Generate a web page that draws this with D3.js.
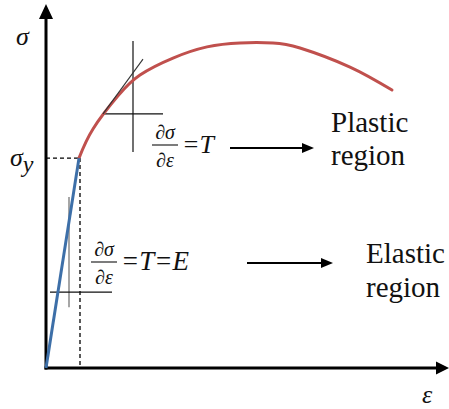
<!DOCTYPE html>
<html>
<head>
<meta charset="utf-8">
<script src="https://cdn.jsdelivr.net/npm/d3@7"></script>
<style>
  html, body { margin: 0; padding: 0; background: #fff; }
  svg { display: block; }
</style>
</head>
<body>
<svg id="chart" width="449" height="409"></svg>
<script>
// Stress–strain curve: linear elastic part up to yield, then strain-hardening plastic part.
const elasticStrain = [0, 0.825];
const elasticStress = [0, 5.83];

const plasticStrain = [0.825, 1.175, 1.8, 2.35, 3.175, 4.025, 4.85, 5.675, 6.35, 7.6, 8.65];
const plasticStress = [5.83, 6.64, 7.56, 8.14, 8.61, 8.92, 9.03, 9.03, 8.89, 8.36, 7.72];

const yieldStrain = 0.85;
const yieldStress = 5.83;

// Tangent construction on the plastic curve (slope T)
const plasticTangent = { from: [1.425, 7.06], to: [2.425, 8.58] };
const plasticRun = { strain: [1.4, 2.925], stress: 7.06 };
const plasticRise = { strain: 2.175, stress: [6.0, 9.08] };

// Tangent construction on the elastic line (slope E)
const elasticRun = { strain: [0.1, 1.65], stress: 2.11 };
const elasticRise = { strain: 0.575, stress: [1.69, 4.75] };

const SERIF = "Liberation Serif";
const svg = d3.select("#chart");

const x = d3.scaleLinear().domain([0, 10]).range([46, 446]);
const y = d3.scaleLinear().domain([0, 10]).range([368, 8]);

// Axes with arrowheads
const axisG = svg.append("g");
axisG.append("line")
  .attr("x1", x(0)).attr("y1", y(0) + 1.5)
  .attr("x2", x(0)).attr("y2", 16)
  .attr("stroke", "#000").attr("stroke-width", 3);
axisG.append("path")
  .attr("d", `M${x(0)},4 L${x(0) - 7},19 L${x(0) + 7},19 Z`)
  .attr("fill", "#000");
axisG.append("line")
  .attr("x1", x(0) - 1.5).attr("y1", y(0))
  .attr("x2", 438).attr("y2", y(0))
  .attr("stroke", "#000").attr("stroke-width", 3);
axisG.append("path")
  .attr("d", `M449,${y(0)} L436,${y(0) - 6.5} L436,${y(0) + 6.5} Z`)
  .attr("fill", "#000");

// Yield guides
svg.append("line")
  .attr("x1", x(0)).attr("y1", y(yieldStress))
  .attr("x2", x(yieldStrain)).attr("y2", y(yieldStress))
  .attr("stroke", "#000").attr("stroke-width", 1.3).attr("stroke-dasharray", "4,3");
svg.append("line")
  .attr("x1", x(yieldStrain)).attr("y1", y(yieldStress))
  .attr("x2", x(yieldStrain)).attr("y2", y(0))
  .attr("stroke", "#000").attr("stroke-width", 1.3).attr("stroke-dasharray", "4,3");

// Elastic tangent construction
svg.append("line")
  .attr("x1", x(elasticRise.strain)).attr("y1", y(elasticRise.stress[0]))
  .attr("x2", x(elasticRise.strain)).attr("y2", y(elasticRise.stress[1]))
  .attr("stroke", "#888").attr("stroke-width", 1.5);
svg.append("line")
  .attr("x1", x(elasticRun.strain[0])).attr("y1", y(elasticRun.stress))
  .attr("x2", x(elasticRun.strain[1])).attr("y2", y(elasticRun.stress))
  .attr("stroke", "#111").attr("stroke-width", 1.2);

// Plastic tangent construction
svg.append("line")
  .attr("x1", x(plasticRise.strain)).attr("y1", y(plasticRise.stress[0]))
  .attr("x2", x(plasticRise.strain)).attr("y2", y(plasticRise.stress[1]))
  .attr("stroke", "#111").attr("stroke-width", 1.2);
svg.append("line")
  .attr("x1", x(plasticRun.strain[0])).attr("y1", y(plasticRun.stress))
  .attr("x2", x(plasticRun.strain[1])).attr("y2", y(plasticRun.stress))
  .attr("stroke", "#111").attr("stroke-width", 1.2);

// Curves
const plasticLine = d3.line().x(d => x(d[0])).y(d => y(d[1])).curve(d3.curveNatural);
svg.append("path")
  .datum(d3.zip(plasticStrain, plasticStress))
  .attr("d", plasticLine)
  .attr("fill", "none").attr("stroke", "#c0504d").attr("stroke-width", 3)
  .attr("stroke-linecap", "round");
const elasticLine = d3.line().x(d => x(d[0])).y(d => y(d[1]));
svg.append("path")
  .datum(d3.zip(elasticStrain, elasticStress))
  .attr("d", elasticLine)
  .attr("fill", "none").attr("stroke", "#3d6fa8").attr("stroke-width", 3);

svg.append("line")
  .attr("x1", x(plasticTangent.from[0])).attr("y1", y(plasticTangent.from[1]))
  .attr("x2", x(plasticTangent.to[0])).attr("y2", y(plasticTangent.to[1]))
  .attr("stroke", "#333").attr("stroke-width", 1.1);

// Text helper
function label(tx, ty, str, size, italic) {
  return svg.append("text").attr("x", tx).attr("y", ty)
    .attr("font-family", SERIF).attr("font-size", size)
    .attr("font-style", italic ? "italic" : "normal")
    .attr("fill", "#111").text(str);
}

// Axis labels
label(16, 45, "σ", 26, true);
const sy = label(10, 166, "", 26, true);
sy.append("tspan").text("σ");
sy.append("tspan").attr("dy", 6).attr("font-size", 24).text("y");
label(422, 403, "ε", 26, true);

// Derivative labels
function fraction(cx, lineY, tail, tailSize) {
  label(cx, lineY - 6, "∂σ", 20, true).attr("text-anchor", "middle");
  svg.append("line").attr("x1", cx - 13).attr("x2", cx + 13)
    .attr("y1", lineY).attr("y2", lineY).attr("stroke", "#111").attr("stroke-width", 1.1);
  label(cx, lineY + 22, "∂ε", 20, true).attr("text-anchor", "middle");
  label(cx + 17, lineY + 8, tail, tailSize, true);
}
fraction(165, 145, "=T", 26);
fraction(104, 262, "=T=E", 27);

// Region arrows
function arrow(x1, x2, yy) {
  svg.append("line").attr("x1", x1).attr("x2", x2 - 10).attr("y1", yy).attr("y2", yy)
    .attr("stroke", "#000").attr("stroke-width", 1.8);
  svg.append("path").attr("d", `M${x2},${yy} L${x2 - 12},${yy - 5} L${x2 - 12},${yy + 5} Z`)
    .attr("fill", "#000");
}
arrow(230, 314, 148);
arrow(247, 333, 263);

// Region names
label(331, 132, "Plastic", 29, false);
label(331, 165, "region", 29, false);
label(366, 263, "Elastic", 29, false);
label(366, 297, "region", 29, false);
</script>
</body>
</html>
